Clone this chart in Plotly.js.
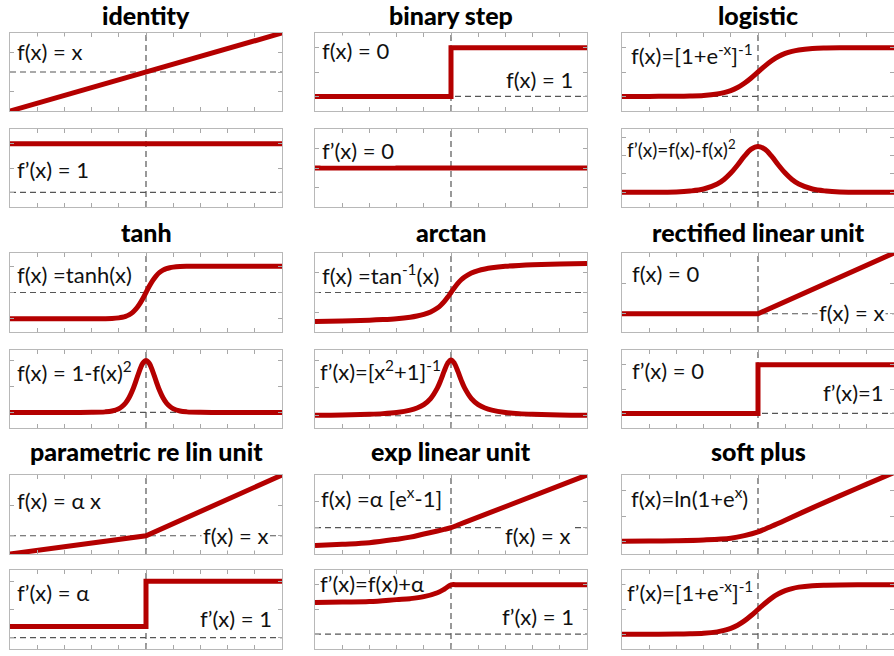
<!DOCTYPE html>
<html>
<head>
<meta charset="utf-8">
<script src="https://cdn.plot.ly/plotly-3.0.1.min.js"></script>
<style>
  html, body { margin: 0; padding: 0; background: #fff; }
  #chart { width: 894px; height: 656px; }
</style>
</head>
<body>
<div id="chart"></div>
<script>
/* -------------------- DATA -------------------- */

const titles = ['identity', 'binary step', 'logistic', 'tanh', 'arctan',
  'rectified linear unit', 'parametric re lin unit', 'exp linear unit', 'soft plus'];

const edgeX = [-10, 10];
const identityY = [-10, 10];
const identityDY = [1, 1];

const stepX = [-10, 0, 0, 10];
const stepY = [0, 0, 1, 1];
const zeroDY = [0, 0];

const logX = [-10, -8, -6, -5, -4, -3, -2.5, -2, -1.5, -1, -0.5, 0, 0.5, 1, 1.5, 2, 2.5, 3, 4, 5, 6, 8, 10];
const logY = [0, 0, 0.002, 0.007, 0.018, 0.047, 0.076, 0.119, 0.182, 0.269, 0.378, 0.5,
  0.622, 0.731, 0.818, 0.881, 0.924, 0.953, 0.982, 0.993, 0.998, 1, 1];
const logDY = [0, 0, 0.002, 0.007, 0.018, 0.045, 0.070, 0.105, 0.149, 0.197, 0.235, 0.25,
  0.235, 0.197, 0.149, 0.105, 0.070, 0.045, 0.018, 0.007, 0.002, 0, 0];

const tanhX = [-10, -6, -4, -3, -2.5, -2, -1.75, -1.5, -1.25, -1, -0.75, -0.5, -0.25, 0,
  0.25, 0.5, 0.75, 1, 1.25, 1.5, 1.75, 2, 2.5, 3, 4, 6, 10];
const tanhY = [-1, -1, -0.999, -0.995, -0.987, -0.964, -0.941, -0.905, -0.848, -0.762, -0.635, -0.462, -0.245, 0,
  0.245, 0.462, 0.635, 0.762, 0.848, 0.905, 0.941, 0.964, 0.987, 0.995, 0.999, 1, 1];
const tanhDY = [0, 0, 0.001, 0.010, 0.027, 0.071, 0.115, 0.181, 0.281, 0.420, 0.597, 0.786, 0.940, 1,
  0.940, 0.786, 0.597, 0.420, 0.281, 0.181, 0.115, 0.071, 0.027, 0.010, 0.001, 0, 0];

const atanX = [-10, -8, -6, -5, -4, -3, -2.5, -2, -1.5, -1, -0.75, -0.5, -0.25, 0,
  0.25, 0.5, 0.75, 1, 1.5, 2, 2.5, 3, 4, 5, 6, 8, 10];
const atanY = [-1.471, -1.446, -1.406, -1.373, -1.326, -1.249, -1.190, -1.107, -0.983, -0.785, -0.644, -0.464, -0.245, 0,
  0.245, 0.464, 0.644, 0.785, 0.983, 1.107, 1.190, 1.249, 1.326, 1.373, 1.406, 1.446, 1.471];
const atanDY = [0.010, 0.015, 0.027, 0.038, 0.059, 0.100, 0.138, 0.200, 0.308, 0.500, 0.640, 0.800, 0.941, 1,
  0.941, 0.800, 0.640, 0.500, 0.308, 0.200, 0.138, 0.100, 0.059, 0.038, 0.027, 0.015, 0.010];

const kinkX = [-10, 0, 10];
const reluY = [0, 0, 10];
const preluY = [-3, 0, 10];
const preluDY = [0.2, 0.2, 1, 1];

const eluX = [-10, -8, -6, -4, -3, -2, -1, -0.5, 0, 0.5, 1, 10];
const eluY = [-3.4, -3.15, -2.85, -2.2, -1.8, -1.2, -0.63, -0.33, 0, 0.5, 1, 10];
const eluDY = [0.64, 0.65, 0.66, 0.70, 0.72, 0.76, 0.84, 0.91, 1, 1, 1, 1];

const softX = [-10, -8, -6, -4, -2, -1, 0, 1, 2, 4, 6, 8, 10];
const softY = [0.02, 0.05, 0.1, 0.22, 0.5, 0.9, 1.5, 2.4, 3.35, 5.3, 7.2, 9.05, 10.9];

/* -------------------- PANELS -------------------- */
// each panel: [top plot, bottom plot]; labels are [text, x, y, anchor, white box?, size]

const panels = [
  [
    { x: edgeX, y: identityY, range: [-10, 10], dtick: 5, labels: [['f(x) = x', 0.02, 0.76, 'left']] },
    { x: edgeX, y: identityDY, range: [-0.3, 1.3], dtick: 0.5, labels: [['f’(x) = 1', 0.02, 0.48, 'left']] }
  ],
  [
    { x: stepX, y: stepY, range: [-0.3, 1.3], dtick: 0.5,
      labels: [['f(x) = 0', 0.02, 0.77, 'left'], ['f(x) = 1', 0.955, 0.41, 'right']] },
    { x: edgeX, y: zeroDY, range: [-1, 1], dtick: 0.5, labels: [['f’(x) = 0', 0.02, 0.73, 'left']] }
  ],
  [
    { x: logX, y: logY, range: [-0.3, 1.3], dtick: 0.5, spline: true,
      labels: [['f(x)=[1+e<sup>-x</sup>]<sup>-1</sup>', 0.025, 0.73, 'left']] },
    { x: logX, y: logDY, range: [-0.08, 0.345], dtick: 0.1, spline: true,
      labels: [['f’(x)=f(x)-f(x)<sup>2</sup>', 0.01, 0.75, 'left', false, 19]] }
  ],
  [
    { x: tanhX, y: tanhY, range: [-1.5, 1.5], dtick: 1, spline: true,
      labels: [['f(x) =tanh(x)', 0.02, 0.73, 'left']] },
    { x: tanhX, y: tanhDY, range: [-0.3, 1.2], dtick: 0.5, spline: true,
      labels: [['f(x) = 1-f(x)<sup>2</sup>', 0.02, 0.73, 'left', false]] }
  ],
  [
    { x: atanX, y: atanY, range: [-2, 2], dtick: 1, spline: true,
      labels: [['f(x) =tan<sup>-1</sup>(x)', 0.02, 0.73, 'left']] },
    { x: atanX, y: atanDY, range: [-0.22, 1.18], dtick: 0.5, spline: true,
      labels: [['f’(x)=[x<sup>2</sup>+1]<sup>-1</sup>', 0.01, 0.74, 'left', false]] }
  ],
  [
    { x: kinkX, y: reluY, range: [-3, 10], dtick: 5,
      labels: [['f(x) = 0', 0.03, 0.74, 'left'], ['f(x) = x', 0.97, 0.25, 'right']] },
    { x: stepX, y: stepY, range: [-0.3, 1.3], dtick: 0.5,
      labels: [['f’(x) = 0', 0.03, 0.74, 'left'], ['f’(x)=1', 0.97, 0.45, 'right']] }
  ],
  [
    { x: kinkX, y: preluY, range: [-3, 10], dtick: 5,
      labels: [['f(x) = α x', 0.02, 0.68, 'left'], ['f(x) = x', 0.955, 0.24, 'right']] },
    { x: stepX, y: preluDY, range: [-0.2, 1.2], dtick: 0.5,
      labels: [['f’(x) = α', 0.02, 0.72, 'left'], ['f’(x) = 1', 0.97, 0.38, 'right']] }
  ],
  [
    { x: eluX, y: eluY, range: [-5, 10], dtick: 5, spline: true,
      labels: [['f(x) =α [e<sup>x</sup>-1]', 0.015, 0.72, 'left'], ['f(x) = x', 0.945, 0.23, 'right']] },
    { x: eluX, y: eluDY, range: [-0.3, 1.3], dtick: 0.5, spline: true,
      labels: [['f’(x)=f(x)+α', 0.01, 0.83, 'left', false], ['f’(x) = 1', 0.96, 0.415, 'right']] }
  ],
  [
    { x: softX, y: softY, range: [-2, 10.5], dtick: 4, spline: true,
      labels: [['f(x)=ln(1+e<sup>x</sup>)', 0.025, 0.71, 'left']] },
    { x: logX, y: logY, range: [-0.3, 1.3], dtick: 0.5, spline: true,
      labels: [['f’(x)=[1+e<sup>-x</sup>]<sup>-1</sup>', 0.01, 0.73, 'left']] }
  ]
];

/* -------------------- LAYOUT -------------------- */

const W = 894, H = 656;
const RED = 'rgb(180,0,0)';
const FONT = 'Lato, Open Sans, sans-serif';
const colPx = [[10, 282], [315, 587], [622, 894]];
const rowPx = [[[33, 111], [129, 207]], [[253, 332], [350, 428]], [[475, 554], [570, 649]]];
const titlePx = [15, 232, 451];

const traces = [];
const layout = {
  width: W, height: H,
  margin: { l: 0, r: 0, t: 0, b: 0 },
  paper_bgcolor: '#fff', plot_bgcolor: '#fff',
  showlegend: false,
  shapes: [], annotations: []
};

function axis(domain, range, dtick, anchor) {
  return {
    domain, range, dtick, tick0: 0, anchor,
    ticks: 'inside', ticklen: 4, tickwidth: 1, tickcolor: '#a8a8a8',
    showticklabels: false, showline: true, linecolor: '#b8b8b8', linewidth: 1,
    mirror: 'allticks', showgrid: false, zeroline: false, fixedrange: true
  };
}

let k = 0;
panels.forEach((panel, p) => {
  const r = Math.floor(p / 3), c = p % 3;
  const [x0, x1] = colPx[c];

  layout.annotations.push({
    xref: 'paper', yref: 'paper', x: (x0 + x1) / 2 / W, y: 1 - titlePx[r] / H,
    xanchor: 'center', yanchor: 'middle', showarrow: false,
    text: titles[p],
    font: { family: FONT, size: 25, weight: 900, color: '#000' }
  });

  panel.forEach((sub, s) => {
    k++;
    const id = k === 1 ? '' : String(k);
    const [y0, y1] = rowPx[r][s];
    layout['xaxis' + id] = axis([x0 / W, x1 / W], [-10, 10], 2, 'y' + id);
    layout['yaxis' + id] = axis([1 - y1 / H, 1 - y0 / H], sub.range, sub.dtick, 'x' + id);

    const dash = { color: '#555', width: 1.2, dash: '6px,4px' };
    layout.shapes.push(
      { type: 'line', layer: 'below', xref: 'x' + id + ' domain', yref: 'y' + id,
        x0: 0, x1: 1, y0: 0, y1: 0, line: dash },
      { type: 'line', layer: 'below', xref: 'x' + id, yref: 'y' + id + ' domain',
        x0: 0, x1: 0, y0: 0, y1: 1, line: dash }
    );

    traces.push({
      x: sub.x, y: sub.y, xaxis: 'x' + id, yaxis: 'y' + id,
      mode: 'lines', hoverinfo: 'skip',
      line: { color: RED, width: 5, shape: sub.spline ? 'spline' : 'linear' }
    });

    sub.labels.forEach(([text, lx, ly, anchor, box, size]) => {
      layout.annotations.push({
        xref: 'x' + id + ' domain', yref: 'y' + id + ' domain', x: lx, y: ly,
        xanchor: anchor, yanchor: 'middle', showarrow: false, text,
        bgcolor: box === false ? 'rgba(0,0,0,0)' : '#fff', borderpad: 1,
        font: { family: FONT, size: size || 22, color: '#111' }
      });
    });
  });
});

Plotly.newPlot('chart', traces, layout, { displayModeBar: false, staticPlot: true });
</script>
</body>
</html>
